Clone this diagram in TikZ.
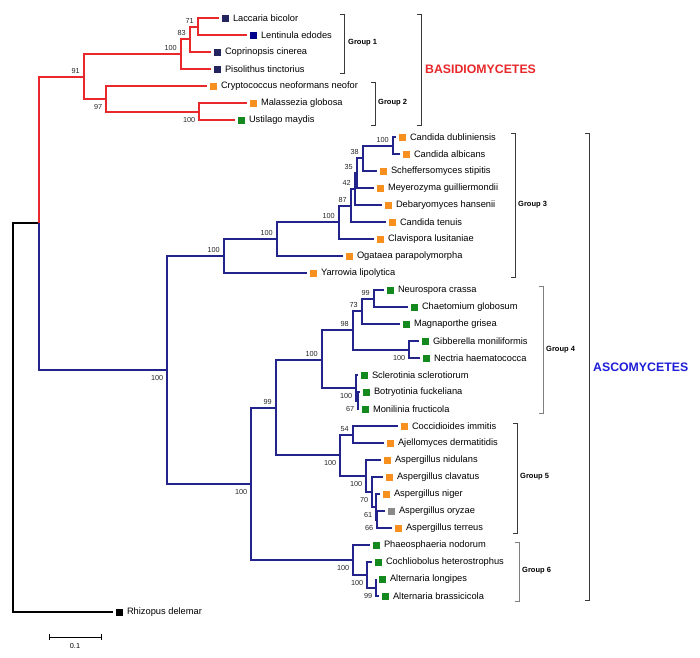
\documentclass[tikz,border=0pt]{standalone}
\usepackage{fontspec}
\setmainfont{Liberation Sans}
\usepackage{tikz}
\definecolor{basired}{HTML}{E8282B}
\definecolor{ascoblue}{HTML}{23238C}
\definecolor{ascotext}{HTML}{1E1ED8}
\definecolor{navysq}{HTML}{24245E}
\definecolor{bluesq}{HTML}{00008C}
\definecolor{orangesq}{HTML}{F7901E}
\definecolor{greensq}{HTML}{14891E}
\definecolor{greysq}{HTML}{8A8A8A}
\definecolor{brackc}{HTML}{3A3A3A}
\definecolor{brackg}{HTML}{808080}

\begin{document}
\begin{tikzpicture}[x=1pt, y=-1pt,
  tree/.style={line width=1.5pt},
  sq/.style={rectangle, minimum size=7pt, inner sep=0pt, outer sep=3pt, anchor=west, fill=#1},
  sp/.style={font=\fontsize{9.3}{11}\selectfont, inner sep=1pt, outer sep=0pt, fill=none, text=black},
  bsu/.style={font=\fontsize{7.3}{8}\selectfont, inner sep=0.5pt, anchor=south east, xshift=-3.5pt, yshift=2.5pt, text=black!85},
  bsd/.style={font=\fontsize{7.3}{8}\selectfont, inner sep=0.5pt, anchor=north east, xshift=-3pt, yshift=-4.5pt, text=black!85},
  grp/.style={font=\bfseries\fontsize{7.5}{9}\selectfont, anchor=west, inner sep=0pt},
  brk/.style={line width=0.8pt, brackc},
  clade/.style={font=\bfseries\fontsize{12.3}{14}\selectfont, anchor=west, inner sep=0pt},
  every label/.style={sp}, label distance=0pt]
  \useasboundingbox (0,0) rectangle (700,657);

  % leaves
  \node[sq=navysq, label=right:Laccaria bicolor] (lac) at (219,18) {};
  \node[sq=bluesq, label=right:Lentinula edodes] (len) at (247,35) {};
  \node[sq=navysq, label=right:Coprinopsis cinerea] (cop) at (211,52) {};
  \node[sq=navysq, label=right:Pisolithus tinctorius] (pis) at (211,69) {};
  \node[sq=orangesq, label=right:Cryptococcus neoformans neofor] (cry) at (207,86) {};
  \node[sq=orangesq, label=right:Malassezia globosa] (mal) at (247,103) {};
  \node[sq=greensq, label=right:Ustilago maydis] (ust) at (235,120) {};
  \node[sq=orangesq, label=right:Candida dubliniensis] (cdu) at (396,137) {};
  \node[sq=orangesq, label=right:Candida albicans] (cal) at (400,154) {};
  \node[sq=orangesq, label=right:Scheffersomyces stipitis] (sch) at (377,171) {};
  \node[sq=orangesq, label=right:Meyerozyma guilliermondii] (mey) at (374,188) {};
  \node[sq=orangesq, label=right:Debaryomyces hansenii] (deb) at (382,205) {};
  \node[sq=orangesq, label=right:Candida tenuis] (cte) at (386,222) {};
  \node[sq=orangesq, label=right:Clavispora lusitaniae] (cla) at (374,239) {};
  \node[sq=orangesq, label=right:Ogataea parapolymorpha] (oga) at (343,256) {};
  \node[sq=orangesq, label=right:Yarrowia lipolytica] (yar) at (307,273) {};
  \node[sq=greensq, label=right:Neurospora crassa] (neu) at (384,290) {};
  \node[sq=greensq, label=right:Chaetomium globosum] (cha) at (408,307) {};
  \node[sq=greensq, label=right:Magnaporthe grisea] (mag) at (400,324) {};
  \node[sq=greensq, label=right:Gibberella moniliformis] (gib) at (419,341) {};
  \node[sq=greensq, label=right:Nectria haematococca] (nec) at (420,358) {};
  \node[sq=greensq, label=right:Sclerotinia sclerotiorum] (scl) at (358,375) {};
  \node[sq=greensq, label=right:Botryotinia fuckeliana] (bot) at (360,392) {};
  \node[sq=greensq, label=right:Monilinia fructicola] (mon) at (359,409) {};
  \node[sq=orangesq, label=right:Coccidioides immitis] (coc) at (398,426) {};
  \node[sq=orangesq, label=right:Ajellomyces dermatitidis] (aje) at (384,443) {};
  \node[sq=orangesq, label=right:Aspergillus nidulans] (anid) at (381,460) {};
  \node[sq=orangesq, label=right:Aspergillus clavatus] (acla) at (383,477) {};
  \node[sq=orangesq, label=right:Aspergillus niger] (anig) at (380,494) {};
  \node[sq=greysq, label=right:Aspergillus oryzae] (aory) at (385,511) {};
  \node[sq=orangesq, label=right:Aspergillus terreus] (ater) at (392,528) {};
  \node[sq=greensq, label=right:Phaeosphaeria nodorum] (pha) at (370,545) {};
  \node[sq=greensq, label=right:Cochliobolus heterostrophus] (coh) at (372,562) {};
  \node[sq=greensq, label=right:Alternaria longipes] (alo) at (376,579) {};
  \node[sq=greensq, label=right:Alternaria brassicicola] (abr) at (379,596) {};
  \node[sq=black, label=right:Rhizopus delemar] (rhi) at (113,612) {};

  % inner nodes
  \coordinate (root) at (13,418);
  \coordinate (nA) at (39,223);
  \coordinate (b91) at (84,77);
  \coordinate (b100) at (181,54);
  \coordinate (b83) at (190,39);
  \coordinate (b71) at (198,27);
  \coordinate (b97) at (106,99);
  \coordinate (b100b) at (199,112);
  \coordinate (a100) at (167,370);
  \coordinate (g3r) at (224,256);
  \coordinate (g3a) at (277,239);
  \coordinate (g3b) at (339,222);
  \coordinate (g3c) at (351,206);
  \coordinate (g3d) at (355,189);
  \coordinate (g3e) at (357,173);
  \coordinate (g3f) at (363,158);
  \coordinate (g3g) at (393,146);
  \coordinate (a100b) at (251,484);
  \coordinate (a99) at (276,408);
  \coordinate (g4) at (322,360);
  \coordinate (g4a) at (353,330);
  \coordinate (g4b) at (362,311);
  \coordinate (g4d) at (374,299);
  \coordinate (g4c) at (409,350);
  \coordinate (g4s) at (356,388);
  \coordinate (g4m) at (358,401);
  \coordinate (g5) at (340,455);
  \coordinate (g5a) at (353,435);
  \coordinate (g5b) at (366,476);
  \coordinate (g5c) at (372,492);
  \coordinate (g5d) at (376,507);
  \coordinate (g5e) at (377,520);
  \coordinate (g6) at (353,560);
  \coordinate (g6a) at (367,575);
  \coordinate (g6b) at (376,588);

  % branches
  \draw[tree, black] (root) |- (nA) (root) |- (rhi);
  \draw[tree, basired] (nA) |- (b91)
    (b91) |- (b100) (b91) |- (b97)
    (b100) |- (b83) (b100) |- (pis)
    (b83) |- (b71) (b83) |- (cop)
    (b71) |- (lac) (b71) |- (len)
    (b97) |- (cry) (b97) |- (b100b)
    (b100b) |- (mal) (b100b) |- (ust);
  \draw[tree, ascoblue] (nA) |- (a100)
    (a100) |- (g3r) (a100) |- (a100b)
    (g3r) |- (g3a) (g3r) |- (yar)
    (g3a) |- (g3b) (g3a) |- (oga)
    (g3b) |- (g3c) (g3b) |- (cla)
    (g3c) |- (g3d) (g3c) |- (cte)
    (g3d) |- (g3e) (g3d) |- (deb)
    (g3e) |- (g3f) (g3e) |- (mey)
    (g3f) |- (g3g) (g3f) |- (sch)
    (g3g) |- (cdu) (g3g) |- (cal)
    (a100b) |- (a99) (a100b) |- (g6)
    (a99) |- (g4) (a99) |- (g5)
    (g4) |- (g4a) (g4) |- (g4s)
    (g4a) |- (g4b) (g4a) |- (g4c)
    (g4b) |- (g4d) (g4b) |- (mag)
    (g4d) |- (neu) (g4d) |- (cha)
    (g4c) |- (gib) (g4c) |- (nec)
    (g4s) |- (scl) (g4s) |- (g4m)
    (g4m) |- (bot) (g4m) |- (mon)
    (g5) |- (g5a) (g5) |- (g5b)
    (g5a) |- (coc) (g5a) |- (aje)
    (g5b) |- (anid) (g5b) |- (g5c)
    (g5c) |- (acla) (g5c) |- (g5d)
    (g5d) |- (anig) (g5d) |- (g5e)
    (g5e) |- (aory) (g5e) |- (ater)
    (g6) |- (pha) (g6) |- (g6a)
    (g6a) |- (coh) (g6a) |- (g6b)
    (g6b) |- (alo) (g6b) |- (abr);

  % bootstrap values
  \node[bsu] at (b71) {71};
  \node[bsu] at (b83) {83};
  \node[bsu] at (b100) {100};
  \node[bsu] at (b91) {91};
  \node[bsd] at (b97) {97};
  \node[bsd] at (b100b) {100};
  \node[bsd] at (a100) {100};
  \node[bsu] at (g3r) {100};
  \node[bsu] at (g3a) {100};
  \node[bsu] at (g3b) {100};
  \node[bsu] at (g3c) {87};
  \node[bsu] at (g3d) {42};
  \node[bsu] at (g3e) {35};
  \node[bsu] at (g3f) {38};
  \node[bsu] at (g3g) {100};
  \node[bsd] at (a100b) {100};
  \node[bsu] at (a99) {99};
  \node[bsu] at (g4) {100};
  \node[bsu] at (g4a) {98};
  \node[bsu] at (g4b) {73};
  \node[bsu] at (g4d) {99};
  \node[bsd] at (g4c) {100};
  \node[bsd] at (g4s) {100};
  \node[bsd] at (g4m) {67};
  \node[bsd] at (g5) {100};
  \node[bsu] at (g5a) {54};
  \node[bsd] at (g5b) {100};
  \node[bsd] at (g5c) {70};
  \node[bsd] at (g5d) {61};
  \node[bsd] at (g5e) {66};
  \node[bsd] at (g6) {100};
  \node[bsd] at (g6a) {100};
  \node[bsd] at (g6b) {99};

  % group brackets
  \draw[brk] (340,14) -- (344,14) -- (344,73) -- (340,73);
  \node[grp] (grp1) at (348,43) {Group 1};
  \draw[brk] (371,82) -- (375,82) -- (375,125) -- (371,125);
  \node[grp] (grp2) at (378,103) {Group 2};
  \draw[brk] (417,14) -- (421,14) -- (421,125) -- (417,125);
  \node[clade, basired] (basi) at (425,69) {BASIDIOMYCETES};
  \draw[brk] (511,133) -- (515,133) -- (515,277) -- (511,277);
  \node[grp] (grp3) at (518,205) {Group 3};
  \draw[brk, brackg] (539,286) -- (543,286) -- (543,413) -- (539,413);
  \node[grp] (grp4) at (546,350) {Group 4};
  \draw[brk] (513,423) -- (517,423) -- (517,533) -- (513,533);
  \node[grp] (grp5) at (520,477) {Group 5};
  \draw[brk, brackg] (515,542) -- (519,542) -- (519,601) -- (515,601);
  \node[grp] (grp6) at (522,571) {Group 6};
  \draw[brk] (585,133) -- (589,133) -- (589,600) -- (585,600);
  \node[clade, ascotext] (asco) at (593,367) {ASCOMYCETES};

  % scale bar
  \draw[line width=0.8pt] (49,634) -- (49,640) (49,637) -- (101,637) (101,634) -- (101,640);
  \node[font=\fontsize{7.3}{8}\selectfont, inner sep=0.5pt] (scale) at (75,646) {0.1};
\end{tikzpicture}
\end{document}
